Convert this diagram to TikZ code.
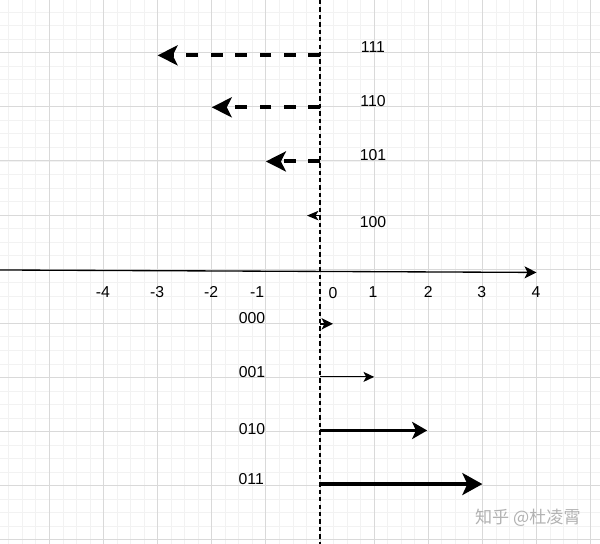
\documentclass[tikz,border=0pt]{standalone}
\usepackage{fontspec}
\setmainfont{Liberation Sans}
\newfontfamily\cjkfont{Noto Sans CJK SC}
\usetikzlibrary{arrows.meta}
\tikzset{
  lbl/.style={inner sep=0pt, font=\fontsize{8.3}{10}\selectfont},
  dasharrow/.style={line width=2.1pt, dash pattern=on 6.2pt off 6.6pt,
    -{Stealth[length=10.5pt,width=10.5pt,inset=2.6pt]}},
  vline/.style={line width=0.8pt, dash pattern=on 2.3pt off 1.6pt},
}
\begin{document}
\begin{tikzpicture}[x=1cm,y=1cm]
\useasboundingbox (-5.912,-5.077) rectangle (5.173,4.973);
\fill[white] (-5.912,-5.077) rectangle (5.173,4.973);
% grid
\draw[gray!10, line width=0.4pt] (-5.912,-5.077) grid[step=0.25] (5.173,4.973);
\draw[gray!30, line width=0.45pt] (-5.912,-5.077) grid[step=1] (5.173,4.973);
% coordinates
\coordinate (o111) at (0,3.95);  \coordinate (e111) at (-3,3.95);
\coordinate (o110) at (0,2.99);  \coordinate (e110) at (-2,2.99);
\coordinate (o101) at (0,1.99);  \coordinate (e101) at (-1,1.99);
\coordinate (o100) at (0,0.99);  \coordinate (e100) at (-0.24,0.99);
\coordinate (o000) at (0,-1.01); \coordinate (e000) at (0.24,-1.01);
\coordinate (o001) at (0,-1.99); \coordinate (e001) at (1,-1.99);
\coordinate (o010) at (0,-2.98); \coordinate (e010) at (1.98,-2.98);
\coordinate (o011) at (0,-3.97); \coordinate (e011) at (3,-3.97);
\coordinate (ax0) at (-5.912,-0.015); \coordinate (ax1) at (4,-0.06);
\coordinate (vt) at (0,4.973); \coordinate (vb) at (0,-5.077);
% vertical dashed line
\draw[vline] (vt) -- (vb);
% axis
\draw[line width=0.7pt, -{Stealth[length=6.3pt,width=6.3pt,inset=1.6pt]}] (ax0) -- (ax1);
% negative arrows
\draw[dasharrow] (o111) -- (e111);
\draw[dasharrow] (o110) -- (e110);
\draw[dasharrow] (o101) -- (e101);
\draw[line width=0.6pt, -{Stealth[length=6pt,width=5pt,inset=1.5pt]}] (o100) -- (e100);
% positive arrows
\draw[line width=0.7pt, -{Stealth[length=6pt,width=6pt,inset=1.5pt]}] (o000) -- (e000);
\draw[line width=0.6pt, -{Stealth[length=5.6pt,width=5.3pt,inset=1.4pt]}] (o001) -- (e001);
\draw[line width=1.5pt, -{Stealth[length=7.9pt,width=9pt,inset=2pt]}] (o010) -- (e010);
\draw[line width=2.4pt, -{Stealth[length=10.5pt,width=11.5pt,inset=2.6pt]}] (o011) -- (e011);
% labels
\node[lbl] (l111) at (0.979,4.11) {111};
\node[lbl] (l110) at (0.979,3.11) {110};
\node[lbl] (l101) at (0.979,2.10) {101};
\node[lbl] (l100) at (0.979,0.87) {100};
\node[lbl] (l000) at (-1.256,-0.90) {000};
\node[lbl] (l001) at (-1.256,-1.90) {001};
\node[lbl] (l010) at (-1.256,-2.95) {010};
\node[lbl] (l011) at (-1.27,-3.88) {011};
% axis ticks labels
\node[lbl] (tm4) at (-4.01,-0.43) {-4};
\node[lbl] (tm3) at (-3.01,-0.43) {-3};
\node[lbl] (tm2) at (-2.01,-0.43) {-2};
\node[lbl] (tm1) at (-1.16,-0.43) {-1};
\node[lbl] (t0) at (0.24,-0.45) {0};
\node[lbl] (t1) at (0.98,-0.43) {1};
\node[lbl] (t2) at (2.0,-0.43) {2};
\node[lbl] (t3) at (2.99,-0.43) {3};
\node[lbl] (t4) at (3.99,-0.43) {4};
% watermark
\node[inner sep=0pt, text=gray!60, font=\cjkfont\fontsize{9}{10}\selectfont] (wm) at (3.84,-4.6) {知乎 @杜凌霄};
\end{tikzpicture}
\end{document}
